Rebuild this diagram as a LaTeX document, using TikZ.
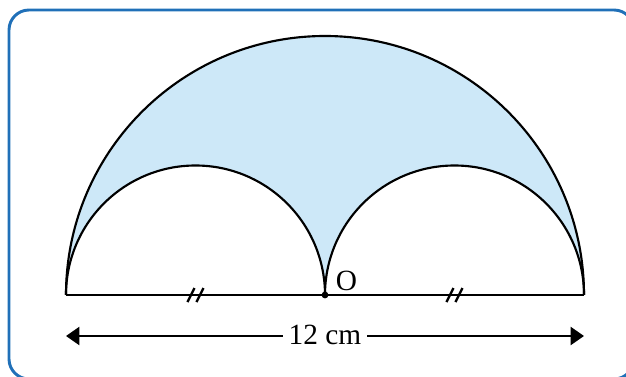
\documentclass[tikz,border=0pt]{standalone}
\usepackage{xcolor}
\usepackage{fontspec}
\setmainfont{Liberation Serif}
\usepackage{tikz}
\usetikzlibrary{arrows.meta}

\definecolor{frameblue}{HTML}{2070B8}
\definecolor{shadeblue}{HTML}{CDE8F8}

\begin{document}
\begin{tikzpicture}[
  x=0.75pt, y=0.75pt,
  frame/.style={draw=frameblue, line width=2.2pt, rounded corners=15pt},
  curve/.style={draw=black, line width=1.6pt},
  tick/.style={line width=1.8pt},
  dim/.style={{Triangle[length=10pt, width=13.5pt]}-{Triangle[length=10pt, width=13.5pt]}, line width=1.6pt},
  lbl/.style={font=\fontsize{22}{24}\selectfont, inner sep=2pt}
]
\useasboundingbox (0,0) rectangle (626,376);
\clip (0,0) rectangle (626,376);
\draw[frame] (9,-3) rectangle (634,366);

% points on the diameter
\coordinate (A) at (66,81);
\coordinate (O) at (325,81);
\coordinate (B) at (584,81);
\coordinate (M1) at (195.5,81);
\coordinate (M2) at (454.5,81);

% shaded region
\fill[shadeblue] (A) arc[start angle=180, end angle=0, radius=259]
  arc[start angle=0, end angle=180, radius=129.5]
  arc[start angle=0, end angle=180, radius=129.5] -- cycle;

\draw[curve] (A) arc[start angle=180, end angle=0, radius=259];
\draw[curve] (A) arc[start angle=180, end angle=0, radius=129.5];
\draw[curve] (O) arc[start angle=180, end angle=0, radius=129.5];
\draw[curve] (A) -- (B);
\fill (O) circle (3.4);
\node[lbl, anchor=south west] (olabel) at (333,82) {O};

% equal marks
\foreach \m in {M1, M2} {
  \draw[tick] ([shift={(-8,-7)}]\m) -- ([shift={(-1,7)}]\m);
  \draw[tick] ([shift={(1,-7)}]\m) -- ([shift={(8,7)}]\m);
}

% dimension
\coordinate (L) at (66,40);
\coordinate (R) at (584,40);
\draw[dim] (L) -- (R);
\node[lbl, fill=white, inner xsep=4pt] (len) at (325,41) {12 cm};
\end{tikzpicture}
\end{document}
